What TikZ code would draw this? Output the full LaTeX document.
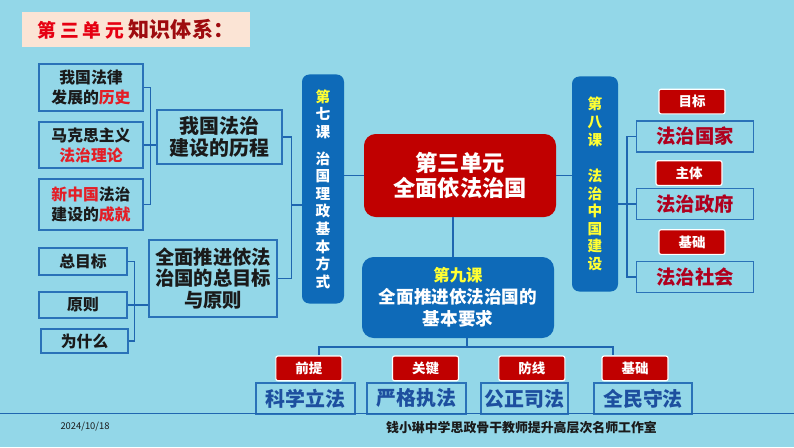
\documentclass[tikz,border=0pt]{standalone}
\usepackage{fontspec}
\setmainfont{Noto Sans CJK SC}
\usetikzlibrary{positioning}
\definecolor{SkyBg}{HTML}{93D7E8}
\definecolor{EdgeBlue}{HTML}{2A72B8}
\definecolor{LinkBlue}{HTML}{1F66B0}
\definecolor{LessonBlue}{HTML}{0E6AB8}
\definecolor{CoreRed}{HTML}{C00000}
\definecolor{HiRed}{HTML}{E41E26}
\definecolor{DeepRed}{HTML}{B0001E}
\definecolor{TextBlue}{HTML}{1D4F9F}
\definecolor{TitlePink}{HTML}{FBE4D5}
\definecolor{TitleRed}{HTML}{E60012}
\definecolor{TitleDark}{HTML}{9E0B0F}
\definecolor{Gold}{HTML}{FFFF33}
\definecolor{Ink}{HTML}{1A1A1A}

\begin{document}
\begin{tikzpicture}[
    x=0.03cm, y=-0.03cm,
    every node/.style={inner sep=0pt},
    topic/.style={draw=EdgeBlue, line width=1.2pt, fill=SkyBg, align=center, text=Ink, font=\fontsize{13.5}{17}\selectfont\bfseries},
    stage/.style={topic, font=\fontsize{17}{18.7}\selectfont\bfseries},
    lesson/.style={fill=LessonBlue, rounded corners=2.2mm, align=center, text=white, font=\fontsize{12.5}{15}\selectfont\bfseries},
    core/.style={fill=CoreRed, rounded corners=3.5mm, align=center, text=white, minimum width=5.76cm, minimum height=2.49cm, font=\fontsize{19}{21}\selectfont\bfseries},
    goal/.style={draw=EdgeBlue, line width=1.2pt, fill=SkyBg, minimum width=3.5cm, minimum height=0.92cm, text=DeepRed, font=\fontsize{16.5}{18}\selectfont\bfseries},
    pillar/.style={draw=EdgeBlue, line width=1.2pt, fill=SkyBg, minimum height=0.93cm, text=TextBlue, font=\fontsize{17}{18}\selectfont\bfseries},
    tag/.style={draw=white, line width=1pt, fill=CoreRed, rounded corners=0.6mm, text=white, minimum width=1.98cm, minimum height=0.74cm, font=\fontsize{11.5}{12}\selectfont\bfseries},
    link/.style={draw=LinkBlue, line width=1.1pt}
]
\useasboundingbox (0,0) rectangle (794,447);
\fill[SkyBg] (0,0) rectangle (794,447);

% title
\node[fill=TitlePink, minimum width=6.84cm, minimum height=1.05cm] (title) at (136,29.5)
  {{\fontsize{16}{17}\selectfont\bfseries\addfontfeature{LetterSpace=20}\color{TitleRed}第三单元}\hspace{4pt}{\fontsize{18}{19}\selectfont\bfseries\color{TitleDark}知识体系：}};

% lesson 7 side
\node[topic, minimum width=3.12cm, minimum height=1.41cm] (h1) at (91,87.5) {我国法律\\发展的\textcolor{HiRed}{历史}};
\node[topic, minimum width=3.12cm, minimum height=1.38cm] (h2) at (91,145) {马克思主义\\\textcolor{HiRed}{法治理论}};
\node[topic, minimum width=3.12cm, minimum height=1.53cm] (h3) at (91,204.5) {\textcolor{HiRed}{新中国}法治\\建设的\textcolor{HiRed}{成就}};
\node[stage, minimum width=3.75cm, minimum height=1.62cm] (hA) at (219.5,137) {我国法治\\建设的历程};

\node[topic, minimum width=2.64cm, minimum height=0.81cm] (g1) at (83,261.5) {总目标};
\node[topic, minimum width=2.64cm, minimum height=0.78cm] (g2) at (83,305) {原则};
\node[topic, minimum width=2.61cm, minimum height=0.72cm] (g3) at (84.5,341) {为什么};
\node[stage, font=\fontsize{16.5}{18.7}\selectfont\bfseries, minimum width=3.84cm, minimum height=2.31cm] (hB) at (213,278.5) {全面推进依法\\治国的总目标\\与原则};

\node[lesson, minimum width=1.26cm, minimum height=6.87cm] (l7) at (323,189)
  {\color{Gold}第\\七\\课\\[8pt]\color{white}治\\国\\理\\政\\基\\本\\方\\式};

% center
\node[core] (core) at (460,175.5) {第三单元\\全面依法治国};
\node[lesson, rounded corners=3.5mm, minimum width=5.76cm, minimum height=2.43cm, font=\fontsize{15}{19}\selectfont\bfseries] (l9) at (458,297.5)
  {{\fontsize{14}{16}\selectfont\color{Gold}第九课}\\全面推进依法治国的\\基本要求};

% lesson 8 side
\node[lesson, text=Gold, minimum width=1.38cm, minimum height=6.45cm] (l8) at (595,184)
  {第\\八\\课\\[16pt]法\\治\\中\\国\\建\\设};
\node[goal] (r1) at (695,136.5) {法治国家};
\node[goal] (r2) at (695,204) {法治政府};
\node[goal] (r3) at (695,277) {法治社会};
\node[tag, above=0.18cm of r1, xshift=-0.09cm] (tg1) {目标};
\node[tag, above=0.06cm of r2, xshift=-0.18cm] (tg2) {主体};
\node[tag, above=0.18cm of r3, xshift=-0.09cm] (tg3) {基础};

% bottom row
\node[pillar, minimum width=2.97cm] (b1) at (305.5,398.5) {科学立法};
\node[pillar, minimum width=2.97cm] (b2) at (416.5,398.5) {严格执法};
\node[pillar, minimum width=2.61cm] (b3) at (524.5,398.5) {公正司法};
\node[pillar, minimum width=2.94cm] (b4) at (643,398.5) {全民守法};
\node[tag, above=0.03cm of b1, xshift=0.1cm] (t1) {前提};
\node[tag, above=0.03cm of b2, xshift=0.27cm] (t2) {关键};
\node[tag, above=0.03cm of b3, xshift=0.22cm] (t3) {防线};
\node[tag, above=0.03cm of b4, xshift=-0.24cm] (t4) {基础};

% connectors
\draw[link] (h1.east) -- ++(7,0) |- (h3.east);
\draw[link] (h2.east) -- (hA.west |- h2.east);
\draw[link] (g1.east) -- ++(7,0) |- (g3.east);
\draw[link] (g2.east) -- (g2.east -| hB.west);
\draw[link] (hA.east) -- ++(9,0) |- (hB.east);
\coordinate (jL) at (291,205);
\draw[link] (jL) -- (jL -| l7.west);
\draw[link] (l7.east |- core.west) -- (core.west);
\draw[link] (core.east) -- (core.east -| l8.west);
\draw[link] ([xshift=-0.21cm]core.south) -- ([xshift=-0.21cm]core.south |- l9.north);
\draw[link] (r1.west) -- ++(-9,0) |- (r3.west);
\draw[link] (l8.east |- r2.west) -- (r2.west);
\coordinate (busL) at (319,347);
\coordinate (busR) at (613,347);
\draw[link] ([xshift=0.27cm]l9.south) |- (busL) -- (busL |- t1.north);
\draw[link] ([xshift=0.27cm]l9.south) |- (busR) -- (busR |- t4.north);

% footer
\draw[line width=1.5pt, LinkBlue] (0,413.5) -- (794,413.5);
\node[font=\fontsize{8}{9}\selectfont, text=Ink] (date) at (85,427) {2024/10/18};
\node[font=\fontsize{11}{12}\selectfont\bfseries, text=Ink] (studio) at (521.5,428) {钱小琳中学思政骨干教师提升高层次名师工作室};
\end{tikzpicture}
\end{document}
